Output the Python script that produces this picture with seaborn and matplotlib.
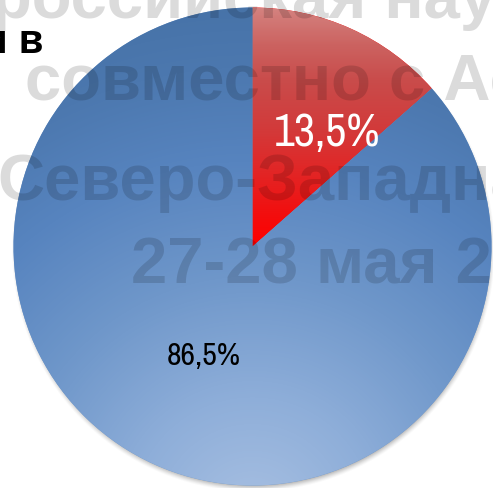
import numpy as np
import matplotlib
matplotlib.use("Agg")
import matplotlib.pyplot as plt
from matplotlib import font_manager
from matplotlib.colors import LinearSegmentedColormap
import seaborn as sns

# ---- data -------------------------------------------------------------
shares = [13.5, 86.5]
slice_colors = ["#ff0000", "#6d96c9"]
banner_lines = ["российская нау", "совместно с Ас", "Северо-Западна", "27-28 мая 20"]
corner_caption = "и в"

# ---- style ------------------------------------------------------------
sns.set_theme(style="white")
plt.rcParams["font.family"] = ["Liberation Sans", "DejaVu Sans"]


def condensed_font():
    """Return (family, stretch) of an installed narrow sans face, if any."""
    for f in font_manager.fontManager.ttflist:
        name = f.name.lower()
        if ("narrow" in name or "condensed" in name) and "mono" not in name \
                and "serif" not in name.replace("sans", ""):
            return f.name, "normal"
    for f in font_manager.fontManager.ttflist:
        st = str(f.stretch)
        if st in ("condensed", "semi-condensed") and "Sans" in f.name:
            return f.name, st
    return None, None


narrow_family, narrow_stretch = condensed_font()
if narrow_family:
    label_font = dict(family=[narrow_family, "DejaVu Sans"], stretch=narrow_stretch)
    big_size, small_size = 33, 23
else:
    label_font = dict(family=["Liberation Sans", "DejaVu Sans"])
    big_size, small_size = 29, 20

W, H, DPI = 493, 489, 100
fig = plt.figure(figsize=(W / DPI, H / DPI), dpi=DPI)
fig.patch.set_facecolor("white")
ax = fig.add_axes([0, 0, 1, 1])

# pie centre / radius in pixels -> axis limits in pie units
cx_px, cy_px, R_px = 252.5, 247.5, 239.0
xlim = (-cx_px / R_px, (W - cx_px) / R_px)
ylim = ((cy_px - H) / R_px, cy_px / R_px)

wedges, texts, autotexts = ax.pie(
    shares,
    colors=slice_colors,
    startangle=90,
    counterclock=False,
    radius=1.0,
    autopct=lambda p: f"{p:.1f}%".replace(".", ","),
    pctdistance=0.5,
    wedgeprops=dict(linewidth=0, zorder=2),
)
ax.set_xlim(*xlim)
ax.set_ylim(*ylim)
ax.set_aspect("auto")
ax.axis("off")

# ---- gradient fills clipped to the wedges -------------------------------
xs = np.linspace(xlim[0], xlim[1], W)
ys = np.linspace(ylim[0], ylim[1], H)
X, Y = np.meshgrid(xs, ys)
extent = (xlim[0], xlim[1], ylim[0], ylim[1])

red_cmap = LinearSegmentedColormap.from_list(
    "red_fill",
    [(0.0, "#ff0000"), (0.1, "#f60a0a"), (0.3, "#e32424"), (0.5, "#d23b3b"),
     (0.7, "#c94c4b"), (0.85, "#cc6361"), (1.0, "#d4827f")],
)
blue_cmap = LinearSegmentedColormap.from_list(
    "blue_fill",
    [(0.0, "#a8c0e2"), (0.23, "#8eaed9"), (0.46, "#6f97ca"), (0.68, "#5784bf"),
     (0.86, "#4c78af"), (1.0, "#4672a7")],
)

red_img = red_cmap(np.clip(Y, 0, 1))
blue_img = blue_cmap(np.clip(np.hypot(X, Y + 1.14) / 2.2, 0, 1))

for wedge, img in zip(wedges, [red_img, blue_img]):
    im = ax.imshow(img, extent=extent, origin="lower", zorder=3,
                   interpolation="bilinear", aspect="auto")
    im.set_clip_path(wedge)

# soft drop shadow under the pie
ds = np.hypot(X - 0.004, Y + 0.015)
sh_alpha = 0.6 * np.clip((1.014 - ds) / 0.032, 0, 1) ** 1.4
shadow = np.zeros((H, W, 4))
shadow[..., :3] = 0.42
shadow[..., 3] = sh_alpha
ax.imshow(shadow, extent=extent, origin="lower", zorder=1,
          interpolation="bilinear", aspect="auto")
ax.set_xlim(*xlim)
ax.set_ylim(*ylim)

# ---- percentage labels --------------------------------------------------
red_lbl, blue_lbl = autotexts
red_lbl.set(color="white", fontsize=big_size, zorder=10, **label_font)
blue_lbl.set(color="black", fontsize=small_size, zorder=10, **label_font)
w = wedges[0]
mid = np.deg2rad((w.theta1 + w.theta2) / 2 - 8.7)
red_lbl.set_position((0.57 * np.cos(mid), 0.57 * np.sin(mid)))

# ---- banner text over the chart ----------------------------------------
banner_pos = [(-8, 18), (25, 100), (-3, 200), (131, 284)]
for line, (px, py) in zip(banner_lines, banner_pos):
    fig.text(px / W, 1 - py / H, line, ha="left", va="baseline",
             fontsize=47, fontweight="bold", color="black", alpha=0.14,
             family=["Liberation Sans", "DejaVu Sans"], zorder=20)

fig.text(-17 / W, 1 - 53 / H, corner_caption, ha="left", va="baseline",
         fontsize=29, fontweight="bold", color="black",
         family=["Liberation Sans", "DejaVu Sans"], zorder=21)

fig.savefig("out.png", dpi=DPI, facecolor="white")
